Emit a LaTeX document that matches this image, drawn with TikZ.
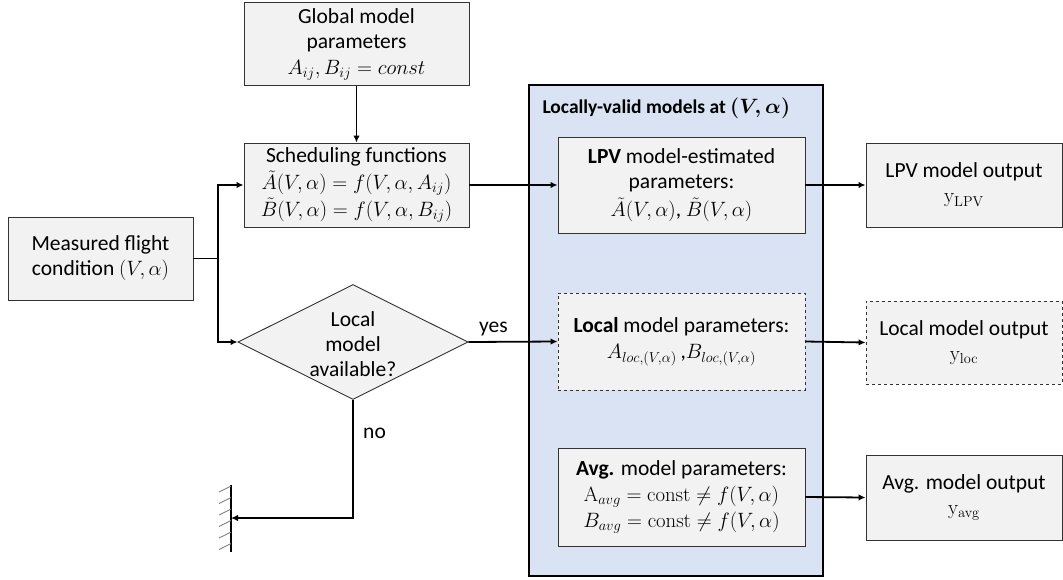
\documentclass[tikz,border=0pt]{standalone}
\usepackage{amsmath}
\usepackage[no-math]{fontspec}
\setmainfont{Carlito}
\usetikzlibrary{arrows.meta,shapes.geometric}
\definecolor{boxfill}{HTML}{F2F2F2}
\definecolor{grpfill}{HTML}{DAE3F3}
\newcommand{\mline}[1]{{\fontsize{20.5}{26}\selectfont$#1$}}
\begin{document}
\begin{tikzpicture}[x=1pt,y=-1pt,
  every node/.style={font=\fontsize{21.5}{25}\selectfont},
  pbox/.style={draw=black!80,line width=0.9pt,fill=boxfill,rectangle,align=center,inner sep=2pt},
  dbox/.style={pbox,dashed},
  conn/.style={line width=1.8pt,-{Latex[length=7pt,width=6.5pt]}},
  plain/.style={line width=1.8pt}]
\useasboundingbox (0,0) rectangle (1063,579);
% group
\node[draw=black,line width=2.6pt,fill=grpfill,minimum width=294pt,minimum height=491pt,inner sep=0pt] (grp) at (676,330.5) {};
\node[anchor=west,font=\fontsize{19.5}{24}\selectfont\bfseries] (grptitle) at (539,108) {Locally-valid models at {\boldmath$(V,\alpha)$}};
% left side
\node[pbox,minimum width=225pt,minimum height=83pt] (glob) at (356.5,44) {Global model\\parameters\\[1pt]\mline{A_{ij},B_{ij}=const}};
\node[pbox,minimum width=225pt,minimum height=84pt] (sched) at (356.5,185) {Scheduling functions\\[2pt]\mline{\tilde{A}(V,\alpha)=f(V,\alpha,A_{ij})}\\[2pt]\mline{\tilde{B}(V,\alpha)=f(V,\alpha,B_{ij})}};
\node[pbox,minimum width=185pt,minimum height=83pt] (meas) at (100.5,258.5) {Measured flight\\condition \mline{(V,\alpha)}};
\node[draw=black!80,line width=0.9pt,fill=boxfill,diamond,minimum width=230pt,minimum height=115pt,inner sep=0pt] (dec) at (353,342) {};
\node[align=center] (dectext) at (353,344) {Local\\model\\available?};
% inner boxes
\node[pbox,minimum width=247pt,minimum height=96pt] (lpv) at (681.5,185) {\textbf{LPV} model-estimated\\parameters:\\[3pt]\mline{\tilde{A}(V,\alpha)}, \mline{\tilde{B}(V,\alpha)}};
\node[dbox,minimum width=247pt,minimum height=97pt] (loc) at (681.5,341.5) {\textbf{Local} model parameters:\\[1pt]\mline{A_{loc,(V,\alpha)}}\,,\mline{B_{loc,(V,\alpha)}}};
\node[pbox,minimum width=247pt,minimum height=98pt] (avg) at (681.5,497) {\textbf{Avg.} model parameters:\\[1pt]\mline{\mathrm{A}_{avg}=\mathrm{const}\neq f(V,\alpha)}\\[1pt]\mline{B_{avg}=\mathrm{const}\neq f(V,\alpha)}};
% outputs
\node[pbox,minimum width=196pt,minimum height=84pt] (lpvout) at (964,185) {LPV model output\\\mline{\mathrm{y}_{\mathrm{LPV}}}};
\node[dbox,minimum width=196pt,minimum height=83pt] (locout) at (964,342.5) {Local model output\\\mline{\mathrm{y}_{\mathrm{loc}}}};
\node[pbox,minimum width=196pt,minimum height=85pt] (avgout) at (964,497.5) {Avg. model output\\\mline{\mathrm{y}_{\mathrm{avg}}}};
% connectors
\coordinate (j) at (218,258.5);
\coordinate (nocorner) at (353,518);
\coordinate (wall) at (231,518);
\draw[conn] (glob.south) -- (sched.north);
\draw[plain] (meas.east) -- (j);
\draw[conn] (j) |- (sched.west);
\draw[conn] (j) |- (dec.west);
\draw[conn] (sched.east) -- (lpv.west);
\draw[conn] (dec.east) -- node[above,pos=0.28,yshift=2pt] (yes) {yes} (loc.west);
\draw[conn] (dec.south) -- node[right,pos=0.28,xshift=6pt] (no) {no} (nocorner) -- (wall);
\draw[conn] (lpv.east) -- (lpvout.west);
\draw[conn] (loc.east) -- (locout.west);
\draw[conn] (avg.east) -- (avgout.west);
% ground wall
\draw[line width=1.8pt] (231,485) -- (231,552);
\foreach \yy in {486,497.5,509,520.5,532,543.5}
  \draw[gray,line width=0.9pt] (231,\yy) -- (219,\yy+6);
\end{tikzpicture}
\end{document}
